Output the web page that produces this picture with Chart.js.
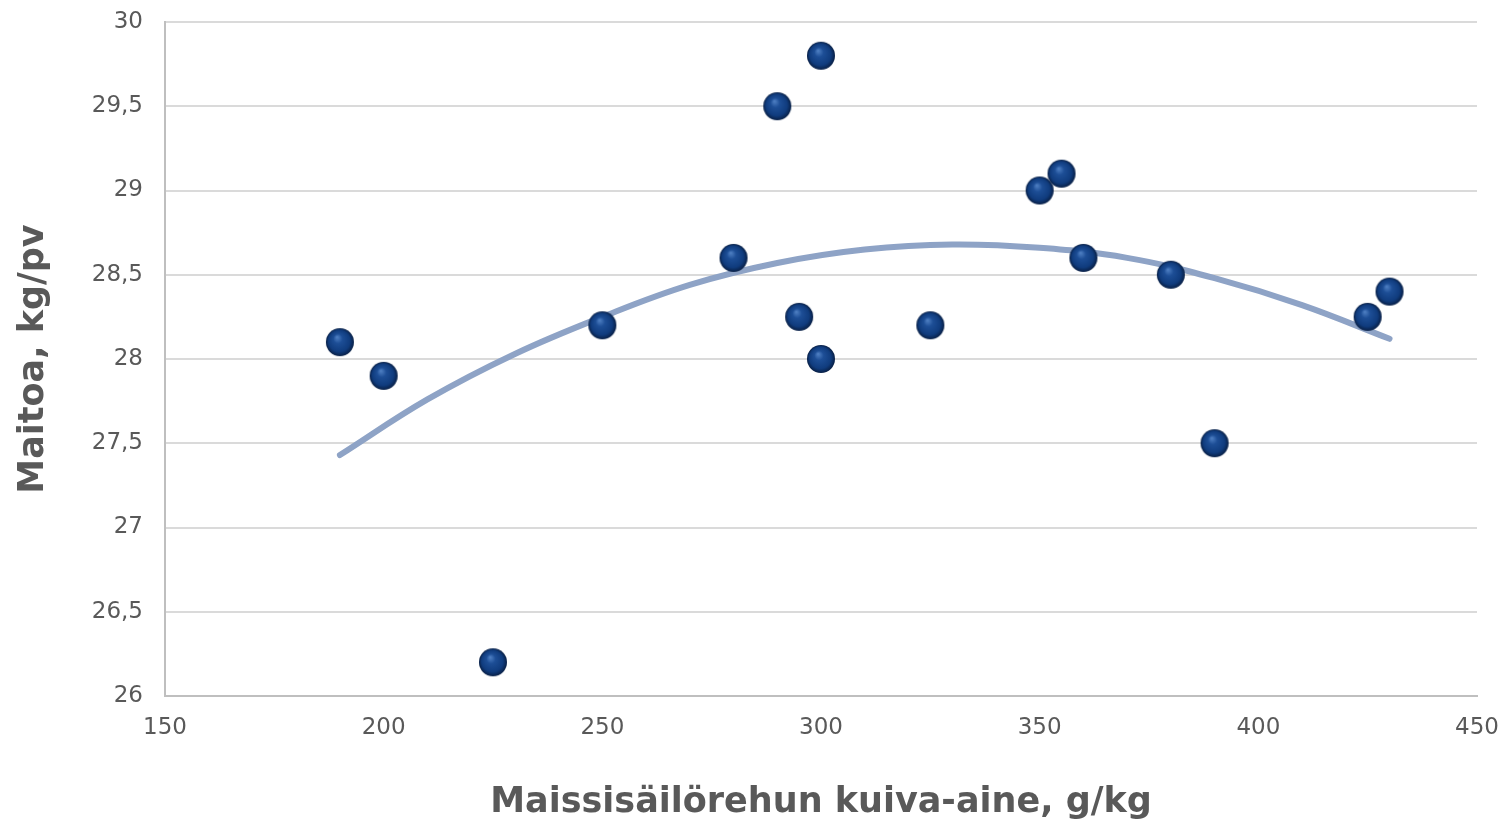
<!DOCTYPE html>
<html>
<head>
<meta charset="utf-8">
<script src="https://cdn.jsdelivr.net/npm/chart.js@4/dist/chart.umd.min.js"></script>
<style>
  html, body { margin: 0; padding: 0; background: #fff; }
  #wrap { width: 1502px; height: 822px; position: relative; }
</style>
</head>
<body>
<div id="wrap"><canvas id="chart"></canvas></div>
<script>
// Havainnot: kuiva-aine (g/kg) ja maitotuotos (kg/pv)
const kuivaAine = [190, 200, 225, 250, 280, 290, 295, 300, 300, 325, 350, 355, 360, 380, 390, 425, 430];
const maitoa    = [28.1, 27.9, 26.2, 28.2, 28.6, 29.5, 28.25, 29.8, 28.0, 28.2, 29.0, 29.1, 28.6, 28.5, 27.5, 28.25, 28.4];

// Trendiviiva luettu kuvasta
const trendiX = [190, 210, 230, 250, 270, 290, 310, 330, 350, 370, 390, 410, 430];
const trendiY = [27.43, 27.76, 28.03, 28.25, 28.44, 28.57, 28.65, 28.68, 28.66, 28.60, 28.48, 28.32, 28.12];

const harmaa = '#595959';
const fontti = "'DejaVu Sans', Verdana, sans-serif";

// Pallomainen pistesymboli
function teePallo(r) {
    const c = document.createElement('canvas');
    c.width = r * 2 + 2;
    c.height = r * 2 + 2;
    const g = c.getContext('2d');
    const cx = r + 1, cy = r + 1;
    const grad = g.createRadialGradient(cx - r * 0.2, cy - r * 0.35, r * 0.05, cx, cy, r);
    grad.addColorStop(0, '#4a7bbf');
    grad.addColorStop(0.3, '#1d4e96');
    grad.addColorStop(0.75, '#103c7e');
    grad.addColorStop(1, '#081f45');
    g.beginPath();
    g.arc(cx, cy, r, 0, Math.PI * 2);
    g.fillStyle = grad;
    g.fill();
    return c;
}
const pallo = teePallo(14);

const pisteet = kuivaAine.map((x, i) => ({ x: x, y: maitoa[i] }));
const trendi = trendiX.map((x, i) => ({ x: x, y: trendiY[i] }));

const ctx = document.getElementById('chart').getContext('2d');
new Chart(ctx, {
    type: 'scatter',
    data: {
        datasets: [
            {
                label: 'Maitoa',
                data: pisteet,
                pointStyle: pallo,
                pointRadius: 14,
                order: 1
            },
            {
                label: 'Trendi',
                type: 'line',
                data: trendi,
                showLine: true,
                borderColor: '#8ea3c6',
                borderWidth: 6,
                borderCapStyle: 'round',
                pointRadius: 0,
                tension: 0.4,
                fill: false,
                order: 2
            }
        ]
    },
    options: {
        responsive: true,
        maintainAspectRatio: false,
        animation: false,
        layout: { padding: { top: 22, right: 25, left: 0, bottom: 0 } },
        plugins: {
            legend: { display: false },
            tooltip: { enabled: false }
        },
        scales: {
            x: {
                type: 'linear',
                min: 150,
                max: 450,
                ticks: {
                    stepSize: 50,
                    color: harmaa,
                    padding: 18,
                    font: { family: fontti, size: 23 }
                },
                grid: { display: false, drawTicks: false },
                border: { display: true, color: '#bfbfbf', width: 2 },
                title: {
                    display: true,
                    text: 'Maissisäilörehun kuiva-aine, g/kg',
                    color: harmaa,
                    padding: { top: 20, bottom: 0 },
                    font: { family: fontti, size: 35, weight: 'bold', lineHeight: 1.1 }
                },
                afterFit: (scale) => {
                    scale.height = 126;
                    scale.paddingLeft = 0;
                    scale.paddingRight = 0;
                }
            },
            y: {
                min: 26,
                max: 30,
                ticks: {
                    stepSize: 0.5,
                    color: harmaa,
                    padding: 22,
                    font: { family: fontti, size: 23 },
                    callback: (v) => String(v).replace('.', ',')
                },
                grid: { color: '#dadada', lineWidth: 2, drawTicks: false },
                border: { display: true, color: '#bfbfbf', width: 2 },
                title: {
                    display: true,
                    text: 'Maitoa, kg/pv',
                    color: harmaa,
                    padding: { top: 13, bottom: 0 },
                    font: { family: fontti, size: 35, weight: 'bold' }
                },
                afterFit: (scale) => {
                    scale.width = 165;
                    scale.paddingTop = 0;
                    scale.paddingBottom = 0;
                }
            }
        }
    }
});
</script>
</body>
</html>
